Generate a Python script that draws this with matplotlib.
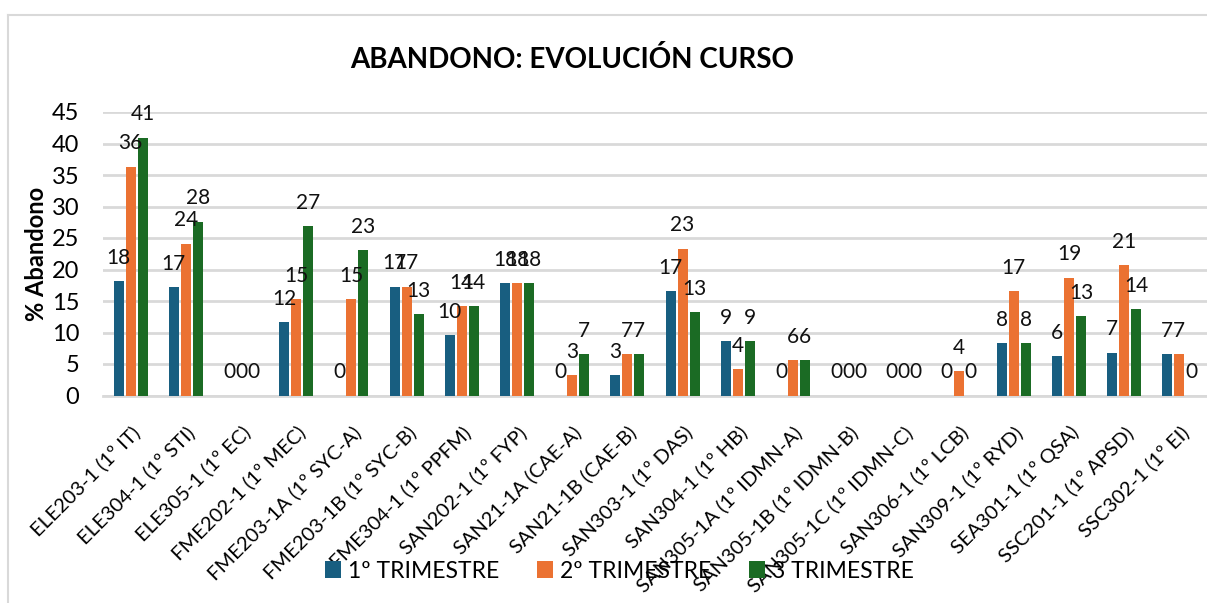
import matplotlib
matplotlib.use("Agg")
import matplotlib.pyplot as plt
from matplotlib.lines import Line2D
import numpy as np

plt.rcParams["font.family"] = ["Lato", "DejaVu Sans"]

categories = [
    "ELE203-1 (1º IT)", "ELE304-1 (1º STI)", "ELE305-1 (1º EC)", "FME202-1 (1º MEC)",
    "FME203-1A (1º SYC-A)", "FME203-1B (1º SYC-B)", "FME304-1 (1º PPFM)", "SAN202-1 (1º FYP)",
    "SAN21-1A (CAE-A)", "SAN21-1B (CAE-B)", "SAN303-1 (1º DAS)", "SAN304-1 (1º HB)",
    "SAN305-1A (1º IDMN-A)", "SAN305-1B (1º IDMN-B)", "SAN305-1C (1º IDMN-C)", "SAN306-1 (1º LCB)",
    "SAN309-1 (1º RYD)", "SEA301-1 (1º QSA)", "SSC201-1 (1º APSD)", "SSC302-1 (1º EI)",
]
t1 = [18.1, 17.2, 0, 11.6, 0, 17.3, 9.6, 17.8, 0, 3.2, 16.6, 8.6, 0, 0, 0, 0, 8.3, 6.2, 6.8, 6.6]
t2 = [36.3, 24.1, 0, 15.3, 15.3, 17.3, 14.2, 17.8, 3.2, 6.6, 23.3, 4.2, 5.6, 0, 0, 3.9, 16.6, 18.7, 20.7, 6.6]
t3 = [40.9, 27.6, 0, 26.9, 23.1, 12.9, 14.2, 17.8, 6.6, 6.6, 13.2, 8.6, 5.6, 0, 0, 0, 8.3, 12.6, 13.7, 0]
series_names = ["1º TRIMESTRE", "2º TRIMESTRE", "3 TRIMESTRE"]
colors = ["#185E80", "#EB7232", "#1B6B24"]

fig = plt.figure(figsize=(12.07, 6.03), dpi=100)
ax = fig.add_axes([103 / 1207, 1 - 395.5 / 603, 1104 / 1207, 283.5 / 603])

x = np.arange(len(categories))
width = 0.18
step = 0.217
for i, (vals, name, c) in enumerate(zip([t1, t2, t3], series_names, colors)):
    pos = x + (i - 1) * step
    ax.bar(pos, vals, width, color=c, label=name, zorder=3)
    for p, v in zip(pos, vals):
        ax.annotate(f"{v:.0f}", (p, v), xytext=(0, 12.5), textcoords="offset points",
                    ha="center", va="baseline", fontsize=15, color="#111111", zorder=4)

ax.set_xlim(-0.5, len(categories) - 0.5)
ax.set_ylim(0, 45)
ax.set_yticks(range(0, 46, 5))
ax.tick_params(axis="y", labelsize=17, length=0, pad=17)
ax.set_xticks(x)
ax.set_xticklabels(categories, rotation=45, ha="right", rotation_mode="anchor", fontsize=14.5)
ax.tick_params(axis="x", length=0, pad=20)
ax.grid(axis="y", color="#D9D9D9", linewidth=2, zorder=0)
for s in ["top", "right", "left"]:
    ax.spines[s].set_visible(False)
ax.spines["bottom"].set_color("#D9D9D9")
ax.spines["bottom"].set_linewidth(2)
ax.set_ylabel("% Abandono", fontsize=17, fontweight="bold", labelpad=3)

fig.text(572 / 1207, 1 - 60 / 603, "ABANDONO: EVOLUCIÓN CURSO", ha="center", va="center",
         fontsize=20, fontweight="bold")

ax.legend(loc="center", bbox_to_anchor=(619 / 1207, 1 - 571 / 603), bbox_transform=fig.transFigure,
          ncol=3, frameon=False, fontsize=16.5, handlelength=0.7, handleheight=0.7,
          columnspacing=1.65, handletextpad=0.3)

# chart border
fig.add_artist(Line2D([8 / 1207, 8 / 1207], [0, 1 - 15 / 603], color="#D9D9D9", linewidth=1.5))
fig.add_artist(Line2D([8 / 1207, 1], [1 - 15 / 603, 1 - 15 / 603], color="#D9D9D9", linewidth=1.5))

fig.savefig("out.png", dpi=100)
